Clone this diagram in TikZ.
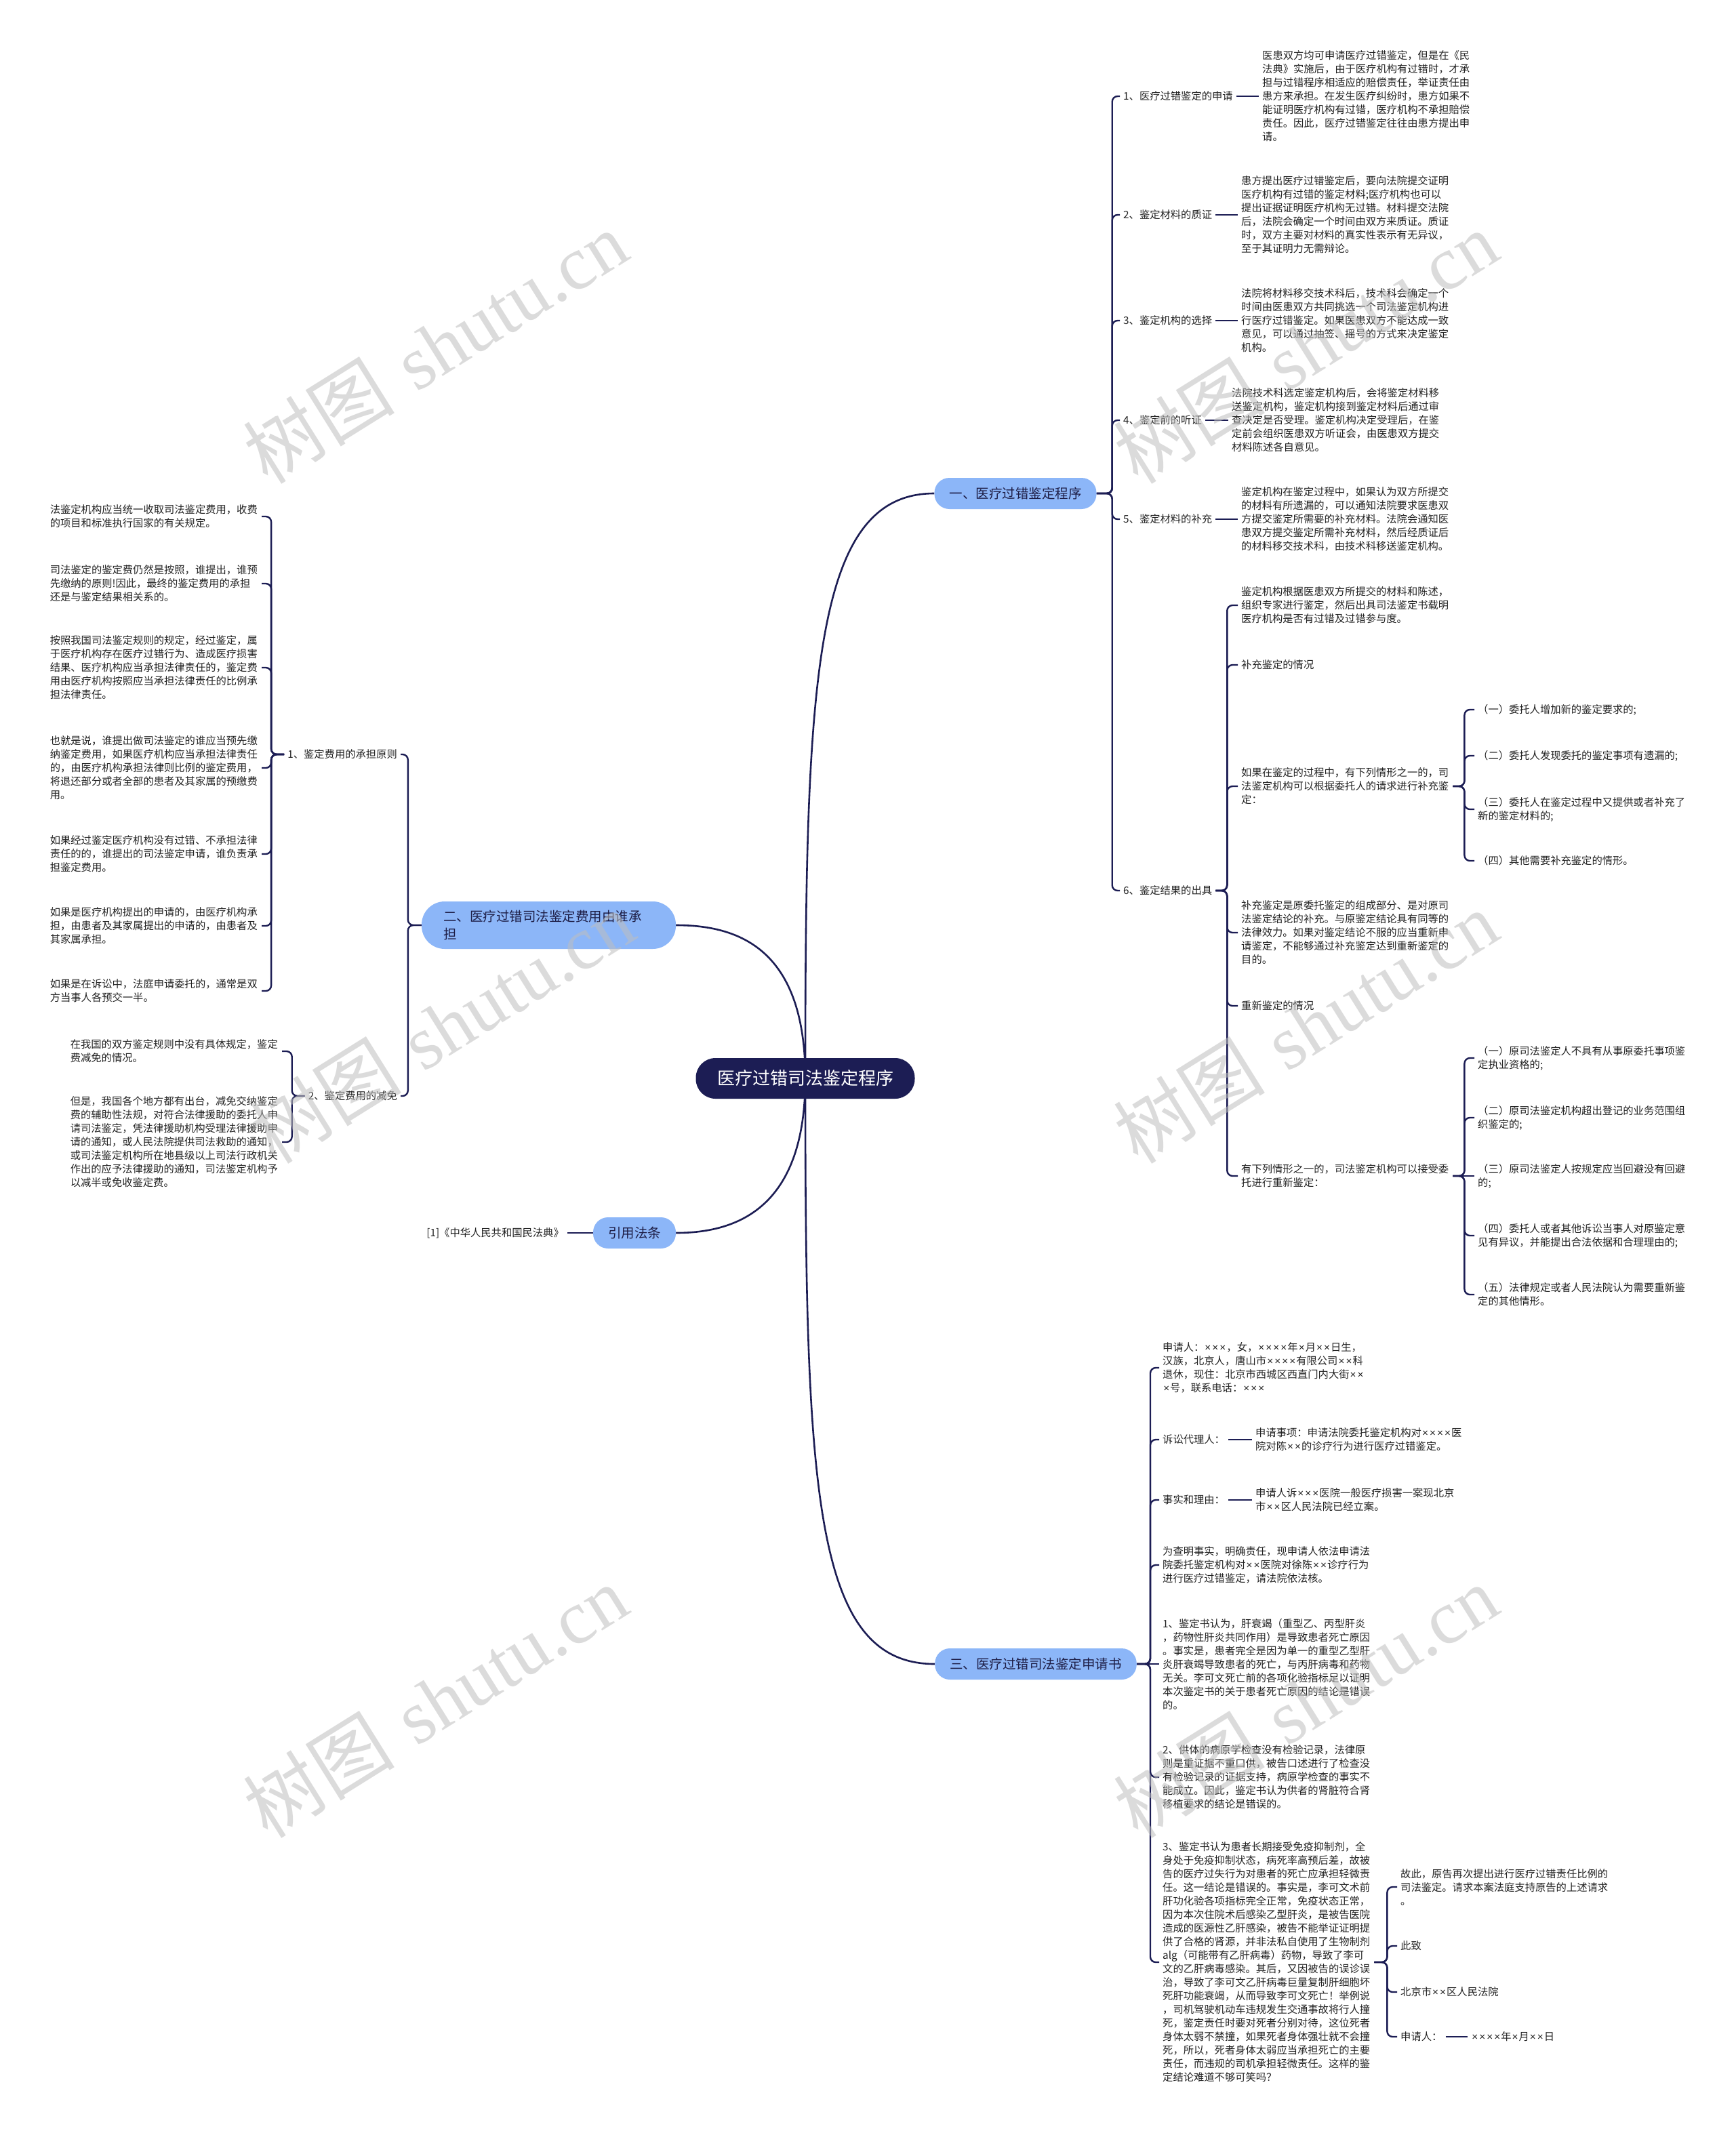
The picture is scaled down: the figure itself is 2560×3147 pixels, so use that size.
\documentclass[tikz,border=0pt]{standalone}
\usepackage{fontspec}
\newfontfamily\cjk{Noto Sans CJK SC}
\newfontfamily\wmserif{Liberation Serif}
\newfontfamily\latinsans{Liberation Sans}
\newcommand\X{\makebox[0.72em]{\latinsans ×}}
\usetikzlibrary{backgrounds}
\definecolor{navy}{RGB}{28,29,84}
\definecolor{lblue}{RGB}{140,182,248}
\definecolor{txt}{RGB}{34,34,34}
\definecolor{btxt}{RGB}{30,30,70}
\definecolor{wmgray}{RGB}{190,190,190}
\tikzset{
  conn/.style={draw=navy, line width=2.4pt, rounded corners=8pt},
  rootline/.style={draw=navy, line width=2.6pt},
  leaf/.style={font=\cjk\fontsize{15.3}{20}\selectfont, text=txt, align=left, inner xsep=5pt, inner ysep=1pt, anchor=west},
  blk/.style={leaf, text width=307pt},
  leafL/.style={leaf, anchor=east},
  blkL/.style={blk, anchor=east},
  branch/.style={fill=lblue, text=btxt, font=\cjk\fontsize{19.5}{26}\selectfont, rounded corners=22pt, inner xsep=22pt, inner ysep=0pt, minimum height=46pt},
  rootbox/.style={fill=navy, text=white, font=\cjk\fontsize{26}{32}\selectfont, rounded corners=29pt, minimum width=323pt, minimum height=60pt, inner sep=0pt},
  wm/.style={text=wmgray, opacity=0.55, rotate=32, inner sep=0pt, font=\fontsize{112}{120}\selectfont}
}
\begin{document}
\begin{tikzpicture}[x=1pt,y=-1pt]
\useasboundingbox (0,0) rectangle (2560,3147);

% ---------- root and branches ----------
\node[rootbox] (root) at (1188,1591) {医疗过错司法鉴定程序};
\node[branch] (b1) at (1498,728) {一、医疗过错鉴定程序};
\node[branch, text width=311pt, inner xsep=32pt, align=left, rounded corners=34pt, minimum height=70pt] (b2) at (809.5,1365) {二、医疗过错司法鉴定费用由谁承\\担};
\node[branch] (b4) at (936,1819) {引用法条};
\node[branch] (b3) at (1528,2455) {三、医疗过错司法鉴定申请书};

% ---------- section 1 ----------
\node[leaf] (s1l1) at (1652,142) {1、医疗过错鉴定的申请};
\node[blk] (s1t1) at (1857,142) {医患双方均可申请医疗过错鉴定，但是在《民\\法典》实施后，由于医疗机构有过错时，才承\\担与过错程序相适应的赔偿责任，举证责任由\\患方来承担。在发生医疗纠纷时，患方如果不\\能证明医疗机构有过错，医疗机构不承担赔偿\\责任。因此，医疗过错鉴定往往由患方提出申\\请。};
\node[leaf] (s1l2) at (1652,317) {2、鉴定材料的质证};
\node[blk] (s1t2) at (1826,317) {患方提出医疗过错鉴定后，要向法院提交证明\\医疗机构有过错的鉴定材料;医疗机构也可以\\提出证据证明医疗机构无过错。材料提交法院\\后，法院会确定一个时间由双方来质证。质证\\时，双方主要对材料的真实性表示有无异议，\\至于其证明力无需辩论。};
\node[leaf] (s1l3) at (1652,473) {3、鉴定机构的选择};
\node[blk] (s1t3) at (1826,473) {法院将材料移交技术科后，技术科会确定一个\\时间由医患双方共同挑选一个司法鉴定机构进\\行医疗过错鉴定。如果医患双方不能达成一致\\意见，可以通过抽签、摇号的方式来决定鉴定\\机构。};
\node[leaf] (s1l4) at (1652,620) {4、鉴定前的听证};
\node[blk] (s1t4) at (1812,620) {法院技术科选定鉴定机构后，会将鉴定材料移\\送鉴定机构，鉴定机构接到鉴定材料后通过审\\查决定是否受理。鉴定机构决定受理后，在鉴\\定前会组织医患双方听证会，由医患双方提交\\材料陈述各自意见。};
\node[leaf] (s1l5) at (1652,766) {5、鉴定材料的补充};
\node[blk] (s1t5) at (1826,766) {鉴定机构在鉴定过程中，如果认为双方所提交\\的材料有所遗漏的，可以通知法院要求医患双\\方提交鉴定所需要的补充材料。法院会通知医\\患双方提交鉴定所需补充材料，然后经质证后\\的材料移交技术科，由技术科移送鉴定机构。};
\node[leaf] (s1l6) at (1652,1314) {6、鉴定结果的出具};

\node[blk] (s6a) at (1826,893) {鉴定机构根据医患双方所提交的材料和陈述，\\组织专家进行鉴定，然后出具司法鉴定书载明\\医疗机构是否有过错及过错参与度。};
\node[leaf] (s6b) at (1826,981) {补充鉴定的情况};
\node[blk] (s6c) at (1826,1160) {如果在鉴定的过程中，有下列情形之一的，司\\法鉴定机构可以根据委托人的请求进行补充鉴\\定：};
\node[leaf] (c1) at (2175,1047) {（一）委托人增加新的鉴定要求的;};
\node[leaf] (c2) at (2175,1115) {（二）委托人发现委托的鉴定事项有遗漏的;};
\node[leaf] (c3) at (2175,1194) {（三）委托人在鉴定过程中又提供或者补充了\\新的鉴定材料的;};
\node[leaf] (c4) at (2175,1270) {（四）其他需要补充鉴定的情形。};
\node[blk] (s6d) at (1826,1376) {补充鉴定是原委托鉴定的组成部分、是对原司\\法鉴定结论的补充。与原鉴定结论具有同等的\\法律效力。如果对鉴定结论不服的应当重新申\\请鉴定，不能够通过补充鉴定达到重新鉴定的\\目的。};
\node[leaf] (s6e) at (1826,1484) {重新鉴定的情况};
\node[blk] (s6f) at (1826,1735) {有下列情形之一的，司法鉴定机构可以接受委\\托进行重新鉴定：};
\node[leaf] (f1) at (2175,1561) {（一）原司法鉴定人不具有从事原委托事项鉴\\定执业资格的;};
\node[leaf] (f2) at (2175,1649) {（二）原司法鉴定机构超出登记的业务范围组\\织鉴定的;};
\node[leaf] (f3) at (2175,1735) {（三）原司法鉴定人按规定应当回避没有回避\\的;};
\node[leaf] (f4) at (2175,1823) {（四）委托人或者其他诉讼当事人对原鉴定意\\见有异议，并能提出合法依据和合理理由的;};
\node[leaf] (f5) at (2175,1910) {（五）法律规定或者人民法院认为需要重新鉴\\定的其他情形。};

% ---------- section 2 ----------
\node[leafL] (s2l1) at (591,1113) {1、鉴定费用的承担原则};
\node[blkL] (s2a) at (386,762) {法鉴定机构应当统一收取司法鉴定费用，收费\\的项目和标准执行国家的有关规定。};
\node[blkL] (s2b) at (386,861) {司法鉴定的鉴定费仍然是按照，谁提出，谁预\\先缴纳的原则!因此，最终的鉴定费用的承担\\还是与鉴定结果相关系的。};
\node[blkL] (s2c) at (386,985) {按照我国司法鉴定规则的规定，经过鉴定，属\\于医疗机构存在医疗过错行为、造成医疗损害\\结果、医疗机构应当承担法律责任的，鉴定费\\用由医疗机构按照应当承担法律责任的比例承\\担法律责任。};
\node[blkL] (s2d) at (386,1133) {也就是说，谁提出做司法鉴定的谁应当预先缴\\纳鉴定费用，如果医疗机构应当承担法律责任\\的，由医疗机构承担法律则比例的鉴定费用，\\将退还部分或者全部的患者及其家属的预缴费\\用。};
\node[blkL] (s2e) at (386,1260) {如果经过鉴定医疗机构没有过错、不承担法律\\责任的的，谁提出的司法鉴定申请，谁负责承\\担鉴定费用。};
\node[blkL] (s2f) at (386,1366) {如果是医疗机构提出的申请的，由医疗机构承\\担，由患者及其家属提出的申请的，由患者及\\其家属承担。};
\node[blkL] (s2g) at (386,1462) {如果是在诉讼中，法庭申请委托的，通常是双\\方当事人各预交一半。};
\node[leafL] (s2l2) at (591,1617) {2、鉴定费用的减免};
\node[blkL] (s2h) at (416,1551) {在我国的双方鉴定规则中没有具体规定，鉴定\\费减免的情况。};
\node[blkL] (s2i) at (416,1685) {但是，我国各个地方都有出台，减免交纳鉴定\\费的辅助性法规，对符合法律援助的委托人申\\请司法鉴定，凭法律援助机构受理法律援助申\\请的通知，或人民法院提供司法救助的通知，\\或司法鉴定机构所在地县级以上司法行政机关\\作出的应予法律援助的通知，司法鉴定机构予\\以减半或免收鉴定费。};

% ---------- law ----------
\node[leafL] (law) at (837,1819) {[1]《中华人民共和国民法典》};

% ---------- section 3 ----------
\node[leaf] (s3a) at (1710,2018) {申请人：\X{}\X{}\X{}，女，\X{}\X{}\X{}\X{}年\X{}月\X{}\X{}日生，\\汉族，北京人，唐山市\X{}\X{}\X{}\X{}有限公司\X{}\X{}科\\退休，现住：北京市西城区西直门内大街\X{}\X{}\\\X{}号，联系电话：\X{}\X{}\X{}};
\node[leaf] (s3b) at (1710,2124) {诉讼代理人：};
\node[leaf] (s3bt) at (1847,2124) {申请事项：申请法院委托鉴定机构对\X{}\X{}\X{}\X{}医\\院对陈\X{}\X{}的诊疗行为进行医疗过错鉴定。};
\node[leaf] (s3c) at (1710,2213) {事实和理由：};
\node[leaf] (s3ct) at (1847,2213) {申请人诉\X{}\X{}\X{}医院一般医疗损害一案现北京\\市\X{}\X{}区人民法院已经立案。};
\node[leaf] (s3d) at (1710,2309) {为查明事实，明确责任，现申请人依法申请法\\院委托鉴定机构对\X{}\X{}医院对徐陈\X{}\X{}诊疗行为\\进行医疗过错鉴定，请法院依法核。};
\node[leaf] (s3e) at (1710,2455) {1、鉴定书认为，肝衰竭（重型乙、丙型肝炎\\，药物性肝炎共同作用）是导致患者死亡原因\\。事实是，患者完全是因为单一的重型乙型肝\\炎肝衰竭导致患者的死亡，与丙肝病毒和药物\\无关。李可文死亡前的各项化验指标足以证明\\本次鉴定书的关于患者死亡原因的结论是错误\\的。};
\node[leaf] (s3f) at (1710,2622) {2、供体的病原学检查没有检验记录，法律原\\则是重证据不重口供，被告口述进行了检查没\\有检验记录的证据支持，病原学检查的事实不\\能成立。因此，鉴定书认为供者的肾脏符合肾\\移植要求的结论是错误的。};
\node[blk] (s3g) at (1710,2895) {3、鉴定书认为患者长期接受免疫抑制剂，全\\身处于免疫抑制状态，病死率高预后差，故被\\告的医疗过失行为对患者的死亡应承担轻微责\\任。这一结论是错误的。事实是，李可文术前\\肝功化验各项指标完全正常，免疫状态正常，\\因为本次住院术后感染乙型肝炎，是被告医院\\造成的医源性乙肝感染，被告不能举证证明提\\供了合格的肾源，并非法私自使用了生物制剂\\alg（可能带有乙肝病毒）药物，导致了李可\\文的乙肝病毒感染。其后，又因被告的误诊误\\治，导致了李可文乙肝病毒巨量复制肝细胞坏\\死肝功能衰竭，从而导致李可文死亡！举例说\\，司机驾驶机动车违规发生交通事故将行人撞\\死，鉴定责任时要对死者分别对待，这位死者\\身体太弱不禁撞，如果死者身体强壮就不会撞\\死，所以，死者身体太弱应当承担死亡的主要\\责任，而违规的司机承担轻微责任。这样的鉴\\定结论难道不够可笑吗？};
\node[leaf] (g1) at (2061,2784) {故此，原告再次提出进行医疗过错责任比例的\\司法鉴定。请求本案法庭支持原告的上述请求\\。};
\node[leaf] (g2) at (2061,2871) {此致};
\node[leaf] (g3) at (2061,2939) {北京市\X{}\X{}区人民法院};
\node[leaf] (g4) at (2061,3005) {申请人：};
\node[leaf] (g5) at (2165,3005) {\X{}\X{}\X{}\X{}年\X{}月\X{}\X{}日};

% ---------- connectors ----------
\begin{scope}[on background layer]
\fill[white] (0,0) rectangle (2560,3147);
\draw[rootline] (root.center) .. controls (1188,1000) and (1200,728) .. (b1.west);
\draw[rootline] (root.center) .. controls (1188,1400) and (1090,1365) .. (b2.east);
\draw[rootline] (root.center) .. controls (1188,1780) and (1090,1819) .. (b4.east);
\draw[rootline] (root.center) .. controls (1188,2200) and (1200,2455) .. (b3.west);

\foreach \c in {s1l1,s1l2,s1l3,s1l4,s1l5,s1l6}
  \draw[conn] (b1.east) -- ++(23,0) |- (\c.west);
\foreach \a/\b in {s1l1/s1t1,s1l2/s1t2,s1l3/s1t3,s1l4/s1t4,s1l5/s1t5}
  \draw[conn] (\a.east) -- (\a.east -| \b.west);
\foreach \c in {s6a,s6b,s6c,s6d,s6e,s6f}
  \draw[conn] (s1l6.east) -- ++(17,0) |- (\c.west);
\foreach \c in {c1,c2,c3,c4}
  \draw[conn] (s6c.east) -- ++(17,0) |- (\c.west);
\foreach \c in {f1,f2,f4,f5}
  \draw[conn] (s6f.east) -- ++(17,0) |- (\c.west);
\draw[conn] (s6f.east) -- (s6f.east -| f3.west);

\foreach \c in {s2l1,s2l2}
  \draw[conn] (b2.west) -- ++(-20,0) |- (\c.east);
\foreach \c in {s2a,s2b,s2c,s2d,s2e,s2f,s2g}
  \draw[conn] (s2l1.west) -- ++(-19,0) |- (\c.east);
\foreach \c in {s2h,s2i}
  \draw[conn] (s2l2.west) -- ++(-19,0) |- (\c.east);
\draw[conn] (b4.west) -- (b4.west -| law.east);

\foreach \c in {s3a,s3b,s3c,s3d,s3f,s3g}
  \draw[conn] (b3.east) -- ++(20,0) |- (\c.west);
\draw[conn] (b3.east) -- (b3.east -| s3e.west);
\draw[conn] (s3b.east) -- (s3b.east -| s3bt.west);
\draw[conn] (s3c.east) -- (s3c.east -| s3ct.west);
\foreach \c in {g1,g2,g3,g4}
  \draw[conn] (s3g.east) -- ++(19,0) |- (\c.west);
\draw[conn] (g4.east) -- (g4.east -| g5.west);
\end{scope}

% ---------- watermarks ----------
\foreach \p in {(642,512),(1926,512),(652,1515),(1926,1515),(642,2510),(1926,2510)}
  \node[wm] at \p {{\cjk 树图} {\wmserif shutu.cn}};
\end{tikzpicture}
\end{document}
